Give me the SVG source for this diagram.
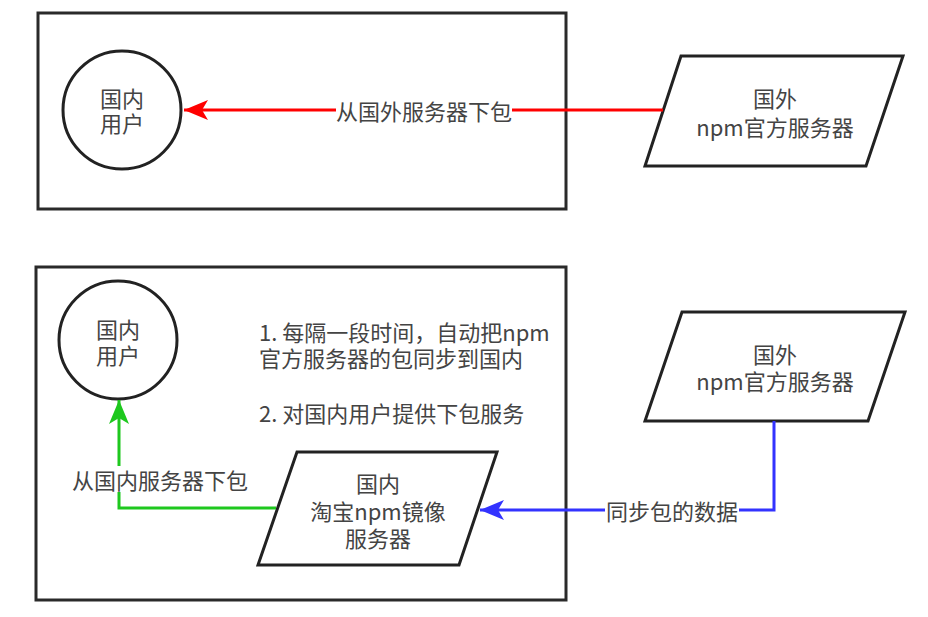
<svg xmlns="http://www.w3.org/2000/svg" width="928" height="617" viewBox="0 0 928 617">
<defs>
<style>
text{font-family:"Noto Sans CJK SC","Noto Sans",sans-serif;font-size:22px;fill:#444;dominant-baseline:central}
.c{text-anchor:middle}
.frame{fill:#fff;stroke:#2a2a2a;stroke-width:3}
.shape{fill:#fff;stroke:#222;stroke-width:3}
.conn{fill:none;stroke-width:3}
</style>
<marker id="ar" viewBox="0 0 24 20" refX="24" refY="10" markerWidth="24" markerHeight="20" markerUnits="userSpaceOnUse" orient="auto"><path d="M0,0 L24,10 L0,20 L6,10 Z" fill="#ff0000"/></marker>
<marker id="ag" viewBox="0 0 24 20" refX="24" refY="10" markerWidth="24" markerHeight="20" markerUnits="userSpaceOnUse" orient="auto"><path d="M0,0 L24,10 L0,20 L6,10 Z" fill="#1ec81e"/></marker>
<marker id="ab" viewBox="0 0 24 20" refX="24" refY="10" markerWidth="24" markerHeight="20" markerUnits="userSpaceOnUse" orient="auto"><path d="M0,0 L24,10 L0,20 L6,10 Z" fill="#3333ff"/></marker>
</defs>
<rect width="928" height="617" fill="#fff"/>
<g id="frame-top"><rect class="frame" x="38" y="13" width="528" height="196"/></g>
<g id="frame-bottom"><rect class="frame" x="36" y="267" width="530" height="333"/></g>
<g id="user-top"><circle class="shape" cx="122" cy="110" r="59"/><text class="c" x="122" y="97">国内</text><text class="c" x="122" y="122">用户</text></g>
<g id="server-foreign-top"><polygon class="shape" points="681,56 903,56 866,166 645,166"/><text class="c" x="775" y="97">国外</text><text class="c" x="775" y="126">npm官方服务器</text></g>
<g id="user-bottom"><circle class="shape" cx="118" cy="340" r="59"/><text class="c" x="118" y="328">国内</text><text class="c" x="118" y="354">用户</text></g>
<g id="note"><text x="259" y="331">1. 每隔一段时间，自动把npm</text><text x="259" y="357">官方服务器的包同步到国内</text><text x="259" y="412">2. 对国内用户提供下包服务</text></g>
<g id="server-taobao"><polygon class="shape" points="297,452 497,452 459,565 258,565"/><text class="c" x="378" y="482">国内</text><text class="c" x="378" y="510">淘宝npm镜像</text><text class="c" x="378" y="537">服务器</text></g>
<g id="server-foreign-bottom"><polygon class="shape" points="682,312 905,312 868,421 645,421"/><text class="c" x="775" y="353">国外</text><text class="c" x="775" y="380">npm官方服务器</text></g>
<g id="connectors">
<path class="conn" stroke="#ff0000" d="M663,110 L184,110" marker-end="url(#ar)"/>
<rect x="336" y="97" width="176" height="26" fill="#fff"/><text class="c" x="424" y="110">从国外服务器下包</text>
<path class="conn" stroke="#1ec81e" d="M276,508 L119,508 L119,400" marker-end="url(#ag)"/>
<rect x="72" y="466" width="176" height="26" fill="#fff"/><text class="c" x="160" y="479">从国内服务器下包</text>
<path class="conn" stroke="#3333ff" d="M774,421 L774,510 L480,510" marker-end="url(#ab)"/>
<rect x="605" y="497" width="134" height="26" fill="#fff"/><text class="c" x="672" y="510">同步包的数据</text>
</g>
</svg>
